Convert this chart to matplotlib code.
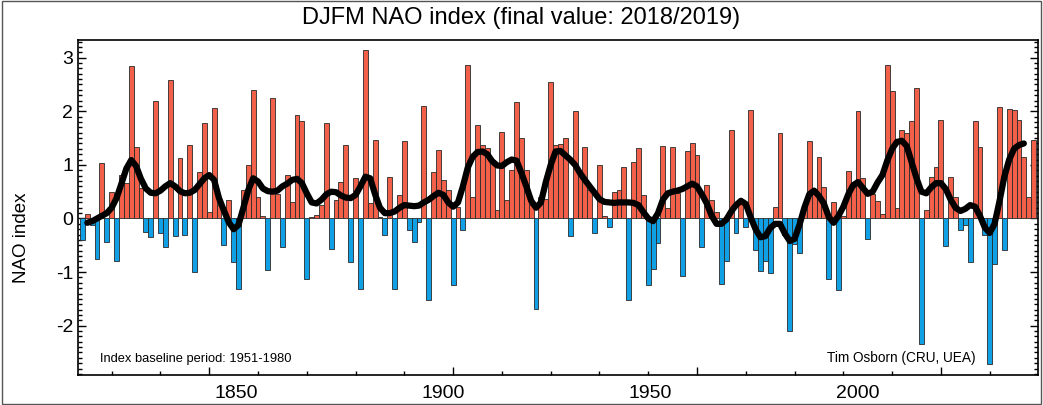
import matplotlib
matplotlib.use("Agg")
import matplotlib.pyplot as plt
from matplotlib.ticker import MultipleLocator
from matplotlib.patches import Rectangle

# DJFM NAO index, one bar per winter (year of Jan)
years = list(range(1824, 2020))
nao = [
    -0.40, 0.08, -0.12, -0.75, 1.03, -0.44, 0.50, -0.80, 0.81, 0.66,    # 1824-1833
    2.84, 1.34, 0.56, -0.25, -0.34, 2.20, -0.28, -0.53, 2.59, -0.33,    # 1834-1843
    1.12, -0.30, 1.37, -1.00, 0.87, 1.79, 0.12, 2.06, 0.25, -0.50,      # 1844-1853
    0.34, -0.81, -1.31, 0.53, 1.00, 2.40, 0.40, 0.04, -0.97, 2.25,      # 1854-1863
    0.45, -0.53, 0.81, 0.31, 1.94, 1.81, -1.12, 0.02, 0.06, 0.25,       # 1864-1873
    1.78, -0.56, 0.34, 0.69, 1.37, -0.81, 0.75, -1.31, 3.15, 0.28,      # 1874-1883
    1.47, 0.03, -0.31, 0.78, -1.31, 0.44, 1.44, -0.22, -0.44, -0.06,    # 1884-1893
    2.09, -1.53, 0.87, 1.28, 0.72, 0.53, -1.25, 0.22, -0.22, 2.87,      # 1894-1903
    0.40, 1.75, 1.37, 1.31, 1.10, 0.16, 1.62, 0.34, 0.90, 2.18,         # 1904-1913
    1.50, 0.90, 0.25, -1.69, 0.40, 0.37, 2.54, 1.37, 1.39, 1.50,        # 1914-1923
    -0.33, 2.00, 0.84, 1.33, 0.53, -0.27, 1.00, 0.05, -0.16, 0.50,      # 1924-1933
    0.54, 0.97, -1.53, 1.05, 1.31, 0.44, -1.25, -0.94, -0.46, 1.35,     # 1934-1943
    0.19, 1.33, 0.47, -1.08, 1.25, 1.40, 1.19, -0.54, 0.62, 0.34,       # 1944-1953
    0.12, -1.22, -0.79, 1.65, -0.27, 0.34, -0.16, 2.03, -0.58, -0.98,   # 1954-1963
    -0.79, -1.02, 0.22, 1.60, -0.30, -2.09, -0.47, -0.64, 0.20, 1.44,   # 1964-1973
    0.55, 1.15, 0.59, -1.12, 0.31, -1.34, 0.05, 0.89, 0.59, 2.00,       # 1974-1983
    0.75, -0.39, 0.45, 0.32, 0.09, 2.87, 2.37, 0.19, 1.65, 1.60,        # 1984-1993
    1.81, 2.43, -2.34, 0.16, 0.78, 0.97, 1.84, -0.52, 0.78, 0.40,       # 1994-2003
    -0.22, -0.12, -0.82, 1.81, 1.34, -0.31, -2.72, -0.84, 2.08, -0.59,  # 2004-2013
    2.04, 2.03, 1.83, 1.15, 0.41, 1.47,                                 # 2014-2019
]

# smoothed curve
smooth_years = list(range(1825, 2018))
smooth = [
    -0.08, -0.05, 0.00, 0.05, 0.10, 0.20, 0.38, 0.65, 0.93, 1.09,       # 1825-1834
    0.98, 0.74, 0.56, 0.48, 0.47, 0.52, 0.60, 0.66, 0.60, 0.51,         # 1835-1844
    0.47, 0.48, 0.53, 0.64, 0.75, 0.81, 0.72, 0.38, 0.15, -0.07,        # 1845-1854
    -0.20, -0.12, 0.20, 0.53, 0.75, 0.69, 0.56, 0.51, 0.50, 0.52,       # 1855-1864
    0.60, 0.65, 0.72, 0.74, 0.66, 0.47, 0.30, 0.28, 0.35, 0.45,         # 1865-1874
    0.50, 0.49, 0.43, 0.39, 0.38, 0.44, 0.60, 0.78, 0.75, 0.45,         # 1875-1884
    0.20, 0.10, 0.10, 0.13, 0.20, 0.25, 0.24, 0.23, 0.24, 0.30,         # 1885-1894
    0.35, 0.42, 0.48, 0.44, 0.30, 0.22, 0.30, 0.60, 0.95, 1.15,         # 1895-1904
    1.24, 1.25, 1.20, 1.07, 0.99, 0.98, 1.05, 1.10, 1.08, 0.85,         # 1905-1914
    0.60, 0.33, 0.20, 0.30, 0.68, 1.00, 1.25, 1.26, 1.18, 1.10,         # 1915-1924
    1.00, 0.85, 0.72, 0.60, 0.48, 0.36, 0.31, 0.30, 0.29, 0.30,         # 1925-1934
    0.30, 0.30, 0.29, 0.25, 0.12, 0.00, -0.05, 0.10, 0.35, 0.47,        # 1935-1944
    0.50, 0.52, 0.55, 0.60, 0.65, 0.60, 0.45, 0.28, 0.05, -0.10,        # 1945-1954
    -0.10, -0.02, 0.13, 0.25, 0.33, 0.27, 0.02, -0.20, -0.35, -0.33,    # 1955-1964
    -0.18, -0.10, -0.10, -0.28, -0.42, -0.38, -0.12, 0.20, 0.45, 0.52,  # 1965-1974
    0.42, 0.28, 0.03, -0.08, 0.05, 0.22, 0.45, 0.62, 0.68, 0.57,        # 1975-1984
    0.46, 0.50, 0.67, 0.81, 1.08, 1.30, 1.43, 1.45, 1.35, 1.05,         # 1985-1994
    0.75, 0.50, 0.47, 0.58, 0.66, 0.66, 0.55, 0.35, 0.20, 0.14,         # 1995-2004
    0.18, 0.25, 0.22, 0.05, -0.17, -0.27, -0.10, 0.32, 0.78, 1.10,      # 2005-2014
    1.30, 1.37, 1.40,                                                   # 2015-2017
]

# the printed year labels sit on their own (narrower) scale in the original
label_years = [1850, 1900, 1950, 2000]

RED = "#f2604a"
BLUE = "#0fa0e6"

plt.rcParams["font.family"] = ["Liberation Sans", "DejaVu Sans"]
plt.rcParams["axes.unicode_minus"] = False

fig = plt.figure(figsize=(10.43, 4.05), dpi=100)
ax = fig.add_axes([0.0748, 0.0741, 0.9204, 0.8271])

cols = [RED if v >= 0 else BLUE for v in nao]
ax.bar(years, nao, width=1.0, color=cols, edgecolor="#2a2a2a", linewidth=0.6, zorder=2)
ax.plot(smooth_years, smooth, color="black", lw=4.5, solid_joinstyle="round",
        solid_capstyle="round", zorder=3)

ax.set_xlim(1823.1, 2019.9)
ax.set_ylim(-2.92, 3.33)
ax.xaxis.set_major_locator(MultipleLocator(50))
ax.xaxis.set_minor_locator(MultipleLocator(10))
ax.yaxis.set_major_locator(MultipleLocator(1))
ax.yaxis.set_minor_locator(MultipleLocator(0.1))
ax.tick_params(which="both", direction="in", top=True, right=True, width=1, labelsize=14)
ax.tick_params(which="major", length=6)
ax.tick_params(which="minor", length=3)
ax.tick_params(axis="x", labelbottom=False)
for s in ax.spines.values():
    s.set_linewidth(1.2)

# year labels
lab = ax.twiny()
lab.set_xlim(1811.9, 2043.4)
lab.xaxis.set_ticks_position("bottom")
lab.set_xticks(label_years)
lab.tick_params(axis="x", length=0, labelsize=14, pad=7)
for s in lab.spines.values():
    s.set_visible(False)

fig.text(0.021, 0.412, "NAO index", rotation=90, fontsize=13.5, ha="center", va="center")
fig.text(0.5, 0.955, "DJFM NAO index (final value: 2018/2019)", fontsize=17,
         ha="center", va="center")
ax.text(0.023, 0.03, "Index baseline period: 1951-1980", transform=ax.transAxes,
        fontsize=9.3, ha="left", va="bottom")
ax.text(0.935, 0.03, "Tim Osborn (CRU, UEA)", transform=ax.transAxes,
        fontsize=9.8, ha="right", va="bottom")

fig.patches.append(Rectangle((0.002, 0.003), 0.996, 0.994, transform=fig.transFigure,
                             fill=False, edgecolor="#555555", linewidth=1))

fig.savefig("out.png", dpi=100)
